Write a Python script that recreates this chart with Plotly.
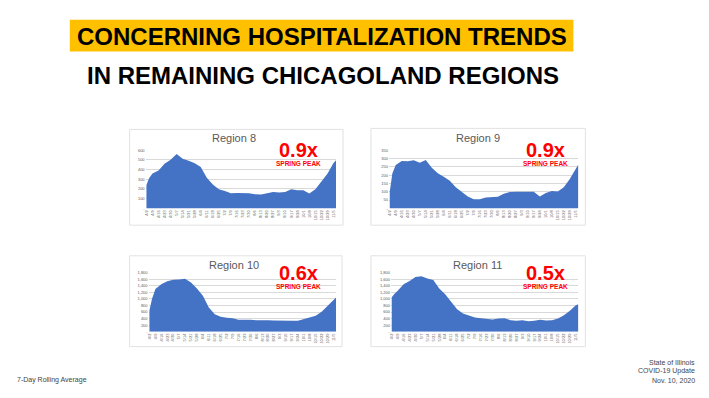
import plotly.graph_objects as go
import pandas as pd

W, H = 709, 398

dates = ["2020-04-02", "2020-04-05", "2020-04-09", "2020-04-16", "2020-04-23", "2020-04-30",
         "2020-05-07", "2020-05-14", "2020-05-21", "2020-05-28", "2020-06-04", "2020-06-11",
         "2020-06-18", "2020-06-25", "2020-07-02", "2020-07-09", "2020-07-16", "2020-07-23",
         "2020-07-30", "2020-08-06", "2020-08-13", "2020-08-20", "2020-08-27", "2020-09-03",
         "2020-09-10", "2020-09-17", "2020-09-24", "2020-10-01", "2020-10-08", "2020-10-15",
         "2020-10-22", "2020-10-29", "2020-11-05", "2020-11-08"]

region8 = [240, 310, 360, 390, 460, 500, 560, 510, 490, 465, 425, 315, 247, 197, 180, 156, 159,
           159, 156, 146, 142, 156, 170, 163, 170, 197, 186, 186, 153, 197, 271, 356, 468, 495]
region9 = [100, 210, 260, 285, 283, 289, 274, 291, 244, 211, 190, 166, 127, 102, 72, 55, 55,
           66, 70, 70, 88, 98, 100, 102, 100, 100, 72, 92, 104, 102, 127, 176, 244, 264]
region10 = [650, 1000, 1300, 1446, 1540, 1580, 1590, 1610, 1496, 1314, 1092, 738, 536, 455, 425,
            415, 364, 374, 364, 354, 364, 354, 344, 334, 334, 334, 334, 384, 425, 485, 607, 789,
            991, 1040]
region11 = [1050, 1150, 1244, 1446, 1547, 1668, 1690, 1618, 1577, 1314, 1142, 910, 688, 556, 485,
            435, 415, 384, 374, 404, 415, 354, 334, 354, 324, 334, 364, 344, 354, 404, 506, 637,
            809, 840]

region_names = ["Region 8", "Region 9", "Region 10", "Region 11"]
peak_ratios = ["0.9x", "0.9x", "0.6x", "0.5x"]
y_ticks_small8 = [0, 100, 200, 300, 400, 500, 600]
y_ticks_small9 = [0, 50, 100, 150, 200, 250, 300, 350]
y_ticks_large = [0, 200, 400, 600, 800, 1000, 1200, 1400, 1600, 1800]

series = [region8, region9, region10, region11]
yticks = [y_ticks_small8, y_ticks_small9, y_ticks_large, y_ticks_large]

# layout geometry in pixels
panels = [  # box (x0, y0, x1, y1), plot (x0, x1, ytop, ybottom)
    dict(box=(128, 128, 342, 225), plot=(144, 335, 149, 208)),
    dict(box=(370, 127, 585, 225), plot=(388, 578, 149, 208)),
    dict(box=(128, 256, 341, 348), plot=(147, 335, 273, 333)),
    dict(box=(370, 256, 585, 348), plot=(390, 578, 273, 333)),
]


def px(x):
    return x / W


def py(y):
    return 1 - y / H


def fmt(v):
    if v == 0:
        return "-"
    return f"{v:,}"


fig = go.Figure()
shapes = []
annotations = []
x = pd.to_datetime(dates)
FONT = "Liberation Sans, Arial, sans-serif"

for i, (vals, p) in enumerate(zip(series, panels)):
    n = "" if i == 0 else str(i + 1)
    bx0, by0, bx1, by1 = p["box"]
    shapes.append(dict(type="rect", xref="paper", yref="paper", x0=px(bx0), x1=px(bx1),
                       y0=py(by1), y1=py(by0), line=dict(color="#e2e2e2", width=1),
                       fillcolor="white", layer="below"))
    fig.add_trace(go.Scatter(x=x, y=vals, mode="lines", fill="tozeroy",
                             line=dict(width=0, color="#4472C4"), fillcolor="#4472C4",
                             xaxis="x" + n, yaxis="y" + n, showlegend=False,
                             hoverinfo="skip"))
    x0, x1, yt, yb = p["plot"]
    ymax = yticks[i][-1]
    fig.update_layout(**{
        "xaxis" + n: dict(domain=[px(x0), px(x1)], anchor="y" + n, type="date",
                          range=["2020-04-01", "2020-11-08"], tick0="2020-04-02",
                          dtick=7 * 86400000, tickformat="%-m/%-d", tickangle=-90,
                          tickfont=dict(size=4, color="#595959", family=FONT),
                          showgrid=False, zeroline=False, showline=False, ticks="",
                          fixedrange=True),
        "yaxis" + n: dict(domain=[py(yb), py(yt)], anchor="x" + n, range=[0, ymax],
                          tickvals=yticks[i], ticktext=[fmt(v) for v in yticks[i]],
                          tickfont=dict(size=4, color="#595959", family=FONT),
                          showgrid=True, gridcolor="#d9d9d9", gridwidth=0.5,
                          zeroline=False, showline=False, ticks="", fixedrange=True),
    })
    annotations.append(dict(text=region_names[i], xref="paper", yref="paper",
                            x=px(233 if i % 2 == 0 else 477), y=py(137 if i < 2 else 265),
                            xanchor="center", yanchor="middle", showarrow=False,
                            font=dict(size=11, color="#595959", family=FONT)))
    rx = 297 if i % 2 == 0 else 545
    ry = 149 if i < 2 else 273
    annotations.append(dict(text="<b>" + peak_ratios[i] + "</b>", xref="paper", yref="paper",
                            x=px(rx), y=py(ry), xanchor="center", yanchor="middle",
                            showarrow=False, font=dict(size=20, color="#FF0000", family=FONT)))
    annotations.append(dict(text="<b>SPRING PEAK</b>", xref="paper", yref="paper",
                            x=px(rx), y=py(ry + 14), xanchor="center", yanchor="middle",
                            showarrow=False, font=dict(size=6.5, color="#FF0000", family=FONT)))

# title
shapes.append(dict(type="rect", xref="paper", yref="paper", x0=px(68), x1=px(573),
                   y0=py(49), y1=py(17), line=dict(width=0), fillcolor="#FFC000",
                   layer="below"))
annotations.append(dict(text="<b>CONCERNING HOSPITALIZATION TRENDS</b>", xref="paper",
                        yref="paper", x=px(320.5), y=py(33.5), xanchor="center",
                        yanchor="middle", showarrow=False,
                        font=dict(size=24, color="black", family=FONT)))
annotations.append(dict(text="<b>IN REMAINING CHICAGOLAND REGIONS</b>", xref="paper",
                        yref="paper", x=px(322), y=py(73), xanchor="center",
                        yanchor="middle", showarrow=False,
                        font=dict(size=24, color="black", family=FONT)))

# footer
annotations.append(dict(text="7-Day Rolling Average", xref="paper", yref="paper",
                        x=px(13), y=py(382), xanchor="left", yanchor="middle",
                        showarrow=False, font=dict(size=7, color="#444444", family=FONT)))
for t, yy in zip(["State of Illinois", "COVID-19 Update", "Nov. 10, 2020"], [364, 373, 382]):
    annotations.append(dict(text=t, xref="paper", yref="paper", x=px(697), y=py(yy),
                            xanchor="right", yanchor="middle", showarrow=False,
                            font=dict(size=7, color="#444444", family=FONT)))

fig.update_layout(width=W, height=H, margin=dict(l=0, r=0, t=0, b=0),
                  paper_bgcolor="white", plot_bgcolor="white",
                  shapes=shapes, annotations=annotations)

fig.write_html("out.html", config={"displayModeBar": False},
               post_script="document.body.style.margin='0';")
